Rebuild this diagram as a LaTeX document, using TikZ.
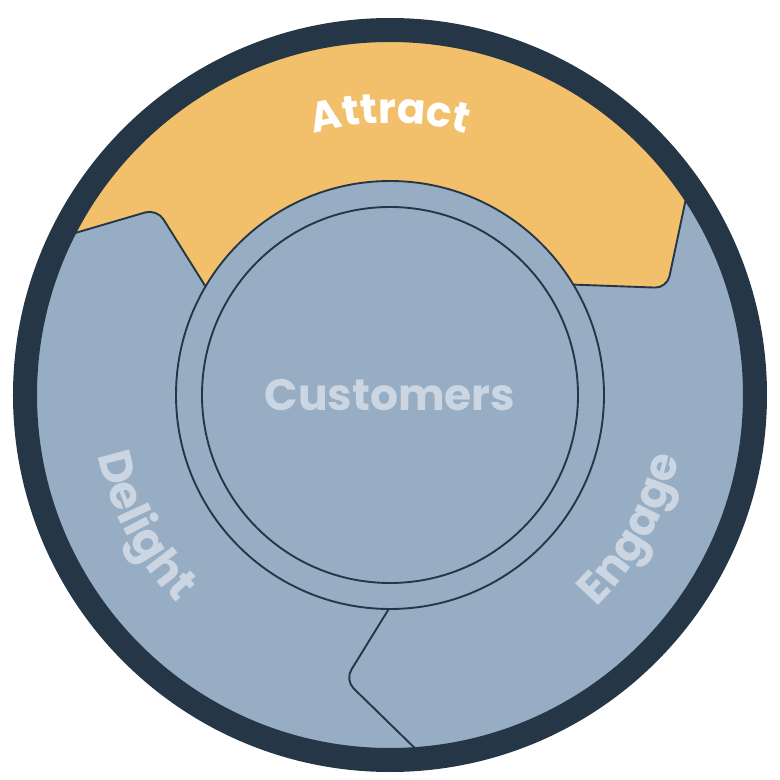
\documentclass[tikz,border=0pt]{standalone}
\usepackage{fontspec}
\setmainfont{Poppins}
\usepackage{tikz}
\usetikzlibrary{calc, decorations.text}
\definecolor{flynavy}{HTML}{253746}
\definecolor{flyblue}{HTML}{97ADC3}
\definecolor{flyyellow}{HTML}{F2C06B}
\definecolor{flylabel}{HTML}{CBD6E2}

\begin{document}
\begin{tikzpicture}[x=1pt, y=1pt, line join=round]

\tikzset{
  border line/.style={draw=flynavy, line width=1.9pt},
  ring label/.style n args={3}{decorate, decoration={text along path, text align=center, text color=#1,
      text={|\bfseries\fontsize{#2}{#2}\selectfont|#3}}}
}

\useasboundingbox (-390,-385) rectangle (390,395);

% Base disc
\fill[flyblue] (0,0) circle (365);

\begin{scope}
\clip (0,0) circle (365);

% Attract segment
\coordinate (attract w out) at (-349,152);
\coordinate (attract w corner) at (-233,186);
\coordinate (attract w in) at (-171,87);
\coordinate (attract e in) at (167,111);
\coordinate (attract e corner) at (277,107);
\coordinate (attract e out) at (302,225);
\filldraw[border line, fill=flyyellow, rounded corners=12pt] (attract w out) -- (attract w corner) -- (attract w in)
  -- (attract e in) -- (attract e corner) -- (attract e out) -- (300,420) -- (-300,420) -- cycle;

% Delight / Engage divider
\coordinate (split in) at (8,-199);
\coordinate (split corner) at (-45,-285);
\coordinate (split out) at (37,-365);
\draw[border line, rounded corners=12pt] (split in) -- (split corner) -- (split out);
\end{scope}

% Outer rim
\fill[flynavy, even odd rule] (0,0) circle (377) (0,0) circle (353);

% Hub
\filldraw[border line, fill=flyblue] (0,0) circle (214);
\draw[border line] (0,0) circle (188);
\node[text=flylabel, font=\bfseries\fontsize{44}{44}\selectfont] (customers) at (0,0) {Customers};

% Ring labels
\path[ring label={white}{42}{Attract}] (128:272) arc[start angle=128, end angle=52, radius=272];
\path[ring label={flylabel}{46}{Delight}] (180:298) arc[start angle=180, end angle=236, radius=298];
\path[ring label={flylabel}{45}{Engage}] (302:296) arc[start angle=302, end angle=360, radius=296];

\end{tikzpicture}
\end{document}
